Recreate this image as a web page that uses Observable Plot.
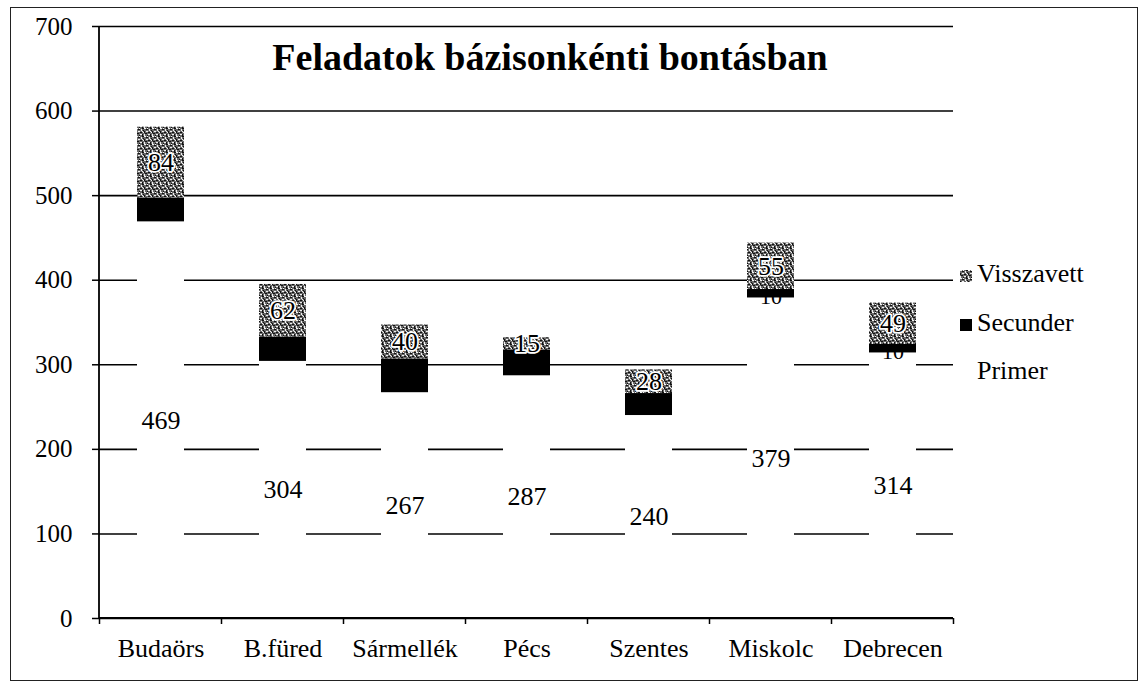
<!DOCTYPE html>
<html><head><meta charset="utf-8">
<script src="https://cdn.jsdelivr.net/npm/d3@7"></script>
<script src="https://cdn.jsdelivr.net/npm/@observablehq/plot@0.6"></script>
<style>
body{margin:0;background:#fff;font-family:"Liberation Serif","Times New Roman",serif;}
#wrap{position:relative;width:1141px;height:686px;overflow:hidden;background:#fff;}
#frame{position:absolute;left:10px;top:7px;width:1128px;height:674px;border:1.5px solid #222;box-sizing:border-box;pointer-events:none;}
#chart{position:absolute;left:0;top:0;}
#chart svg text{font-family:"Liberation Serif","Times New Roman",serif;}
#title{position:absolute;left:0;width:1100px;text-align:center;top:38px;font-size:38px;line-height:38px;font-weight:bold;color:#000;}
.leg{position:absolute;left:960px;font-size:26px;line-height:26px;color:#000;white-space:nowrap;}
.leg svg{vertical-align:baseline;margin-right:5px;}
</style></head><body>
<div id="wrap">
  <div id="chart"></div>
  <div id="title">Feladatok bázisonkénti bontásban</div>
  <div id="legend"></div>
  <div id="frame"></div>
</div>
<script>
const categories = ["Budaörs", "B.füred", "Sármellék", "Pécs", "Szentes", "Miskolc", "Debrecen"];
const primer     = [469, 304, 267, 287, 240, 379, 314];
const secunder   = [28, 29, 40, 30, 26, 10, 10];
const visszavett = [84, 62, 40, 15, 28, 55, 49];
const seriesNames = ["Primer", "Secunder", "Visszavett"];
const yTicks = [0, 100, 200, 300, 400, 500, 600, 700];

// stacked table built from the arrays
const rows = [];
categories.forEach((c, i) => {
  let base = 0;
  [primer[i], secunder[i], visszavett[i]].forEach((v, j) => {
    rows.push({cat: c, series: seriesNames[j], value: v, y1: base, y2: base + v, mid: base + v / 2});
    base += v;
  });
});
const prim = rows.filter(r => r.series === "Primer");
const sec = rows.filter(r => r.series === "Secunder");
const vis = rows.filter(r => r.series === "Visszavett");
// black-on-black labels only show where the segment is thinner than the text
const secShown = sec.filter(r => r.value < 20);

const font = "'Liberation Serif', 'Times New Roman', serif";
const plot = Plot.plot({
  width: 1141, height: 686,
  marginLeft: 99, marginRight: 188, marginTop: 26, marginBottom: 68,
  style: {fontFamily: font, fontSize: "26px", background: "transparent", color: "#000"},
  x: {domain: categories, paddingInner: 0.615, paddingOuter: 0.3075, label: null},
  y: {domain: [0, 700], label: null},
  marks: [
    Plot.ruleY(yTicks, {stroke: "#000", strokeWidth: 1.6}),
    Plot.barY(prim, {x: "cat", y1: "y1", y2: "y2", fill: "white"}),
    Plot.barY(sec, {x: "cat", y1: "y1", y2: "y2", fill: "black"}),
    Plot.text(secShown, {x: "cat", y: "mid", dy: 3, text: d => String(d.value), fill: "black", fontSize: 22, fontFamily: font}),
    Plot.barY(vis, {x: "cat", y1: "y1", y2: "y2", fill: "url(#vpat)"}),
    Plot.text(vis, {x: "cat", y: "mid", text: d => String(d.value), fill: "black", stroke: "white", strokeWidth: 3.5, paintOrder: "stroke", fontSize: 26, fontFamily: font}),
    Plot.text(prim, {x: "cat", y: "mid", text: d => String(d.value), fill: "black", fontSize: 26, fontFamily: font}),
    Plot.axisY({ticks: yTicks, tickSize: 7, tickPadding: 20, fontSize: 25, fontFamily: font, tickFormat: d => String(d), stroke: "#000", strokeWidth: 1.5}),
    Plot.axisX({tickSize: 0, tickPadding: 20, fontSize: 26, fontFamily: font})
  ]
});
document.getElementById("chart").appendChild(plot);

// speckled pattern for "Visszavett"
const svg = d3.select(plot);
const defs = svg.insert("defs", ":first-child");
const pat = defs.append("pattern").attr("id", "vpat").attr("patternUnits", "userSpaceOnUse")
  .attr("width", 8).attr("height", 8);
pat.append("rect").attr("width", 8).attr("height", 8).attr("fill", "#6a6a6a");
[[0,0,2,1],[5,1,1,2],[2,3,2,1],[7,4,1,1],[0,6,1,2],[4,6,2,1],[6,3,1,1],[3,0,1,1]]
  .forEach(([a,b,w,h]) => pat.append("rect").attr("x", a).attr("y", b).attr("width", w).attr("height", h).attr("fill", "#f2f2f2"));
[[2,1,2,1],[6,0,2,1],[0,3,1,2],[4,4,2,1],[1,5,2,1],[6,6,1,2],[3,7,1,1],[7,2,1,1]]
  .forEach(([a,b,w,h]) => pat.append("rect").attr("x", a).attr("y", b).attr("width", w).attr("height", h).attr("fill", "#111"));

// axis lines and category boundary ticks from the library's scales
const xs = plot.scale("x"), ys = plot.scale("y");
const x0 = xs.range[0], x1 = xs.range[1];
const yb = ys.apply(0), yt = ys.apply(700);
svg.append("line").attr("x1", x0).attr("x2", x0).attr("y1", yt).attr("y2", yb).attr("stroke", "#000").attr("stroke-width", 1.8);
svg.append("line").attr("x1", x0).attr("x2", x1).attr("y1", yb).attr("y2", yb).attr("stroke", "#000").attr("stroke-width", 1.8);
const gap = xs.step - xs.bandwidth;
const bounds = categories.map(c => xs.apply(c) - gap / 2).concat([xs.apply(categories[categories.length - 1]) + xs.bandwidth + gap / 2]);
bounds.forEach(bx => svg.append("line").attr("x1", bx).attr("x2", bx).attr("y1", yb).attr("y2", yb + 6).attr("stroke", "#000").attr("stroke-width", 1.5));

// legend
const legend = document.getElementById("legend");
const legItems = [
  {name: "Visszavett", fill: "url(#vpat)", top: 261},
  {name: "Secunder", fill: "#000", top: 310},
  {name: "Primer", fill: "#fff", top: 358}
];
legItems.forEach(it => {
  const d = document.createElement("div");
  d.className = "leg";
  d.style.top = it.top + "px";
  d.innerHTML = `<svg width="12" height="12"><rect width="12" height="12" fill="${it.fill}"></rect></svg>${it.name}`;
  legend.appendChild(d);
});
</script>
</body></html>
